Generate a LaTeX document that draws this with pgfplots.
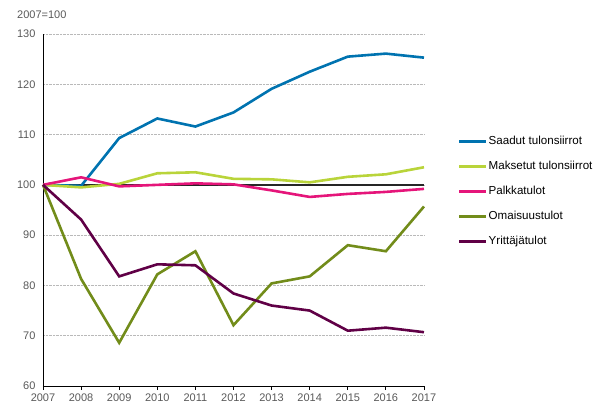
\documentclass[border=0pt]{standalone}
\usepackage{pgfplots}
\pgfplotsset{compat=1.18}
\usepackage{fontspec}
\setmainfont{Liberation Sans}
\definecolor{cBlue}{HTML}{0073B0}
\definecolor{cLime}{HTML}{B9D43A}
\definecolor{cPink}{HTML}{E5157A}
\definecolor{cOlive}{HTML}{728C1A}
\definecolor{cPurple}{HTML}{600046}
\definecolor{cText}{HTML}{595959}
\begin{document}
\begin{tikzpicture}
\begin{axis}[
    scale only axis, width=381pt, height=352pt,
    xmin=2007, xmax=2017, ymin=60, ymax=130,
    xtick={2007,...,2017}, ytick={60,70,...,130},
    axis x line*=bottom, axis y line*=left,
    axis line style={black, line width=0.9pt},
    ymajorgrids, grid style={densely dotted, gray!55, line width=0.5pt},
    ytick style={draw=none},
    xtick style={black, line width=0.9pt},
    tick align=outside, major tick length=4pt,
    /pgf/number format/assume math mode=true,
    x tick label style={/pgf/number format/1000 sep={}},
    tick label style={font=\fontsize{11}{13}\selectfont, text=cText},
    clip=false,
    legend style={draw=none, fill=none, at={(1.081,0.72)}, anchor=north west,
        font=\fontsize{11.6}{14}\selectfont, row sep=11pt,
        nodes={inner sep=1pt, text height=9pt, text depth=3pt}},
    legend cell align=left,
    legend image code/.code={\draw[#1] (0pt,0pt) -- (27pt,0pt);},
    every axis plot/.append style={line width=2.6pt},
]
\addplot[gray!30!black, line width=1.3pt, forget plot] coordinates {(2007,100) (2017,100)};
\addplot[cBlue] coordinates {
(2007,100) (2008,99.8) (2009,109.3) (2010,113.2) (2011,111.6) (2012,114.4)
(2013,119.1) (2014,122.5) (2015,125.5) (2016,126.1) (2017,125.3)};
\addlegendentry{Saadut tulonsiirrot}
\addplot[cLime] coordinates {
(2007,100) (2008,99.5) (2009,100.2) (2010,102.3) (2011,102.5) (2012,101.2)
(2013,101.1) (2014,100.5) (2015,101.6) (2016,102.1) (2017,103.5)};
\addlegendentry{Maksetut tulonsiirrot}
\addplot[cPink] coordinates {
(2007,100) (2008,101.5) (2009,99.7) (2010,100.0) (2011,100.3) (2012,100.1)
(2013,98.9) (2014,97.6) (2015,98.2) (2016,98.6) (2017,99.2)};
\addlegendentry{Palkkatulot}
\addplot[cOlive] coordinates {
(2007,100) (2008,81.3) (2009,68.6) (2010,82.2) (2011,86.8) (2012,72.1)
(2013,80.4) (2014,81.8) (2015,88.0) (2016,86.8) (2017,95.7)};
\addlegendentry{Omaisuustulot}
\addplot[cPurple] coordinates {
(2007,100) (2008,93.1) (2009,81.8) (2010,84.2) (2011,84.0) (2012,78.4)
(2013,76.0) (2014,75.0) (2015,71.0) (2016,71.6) (2017,70.7)};
\addlegendentry{Yrittäjätulot}
\node[anchor=west, text=cText, font=\fontsize{11}{13}\selectfont, inner sep=0pt]
    at ([xshift=-26pt, yshift=19pt]rel axis cs:0,1) {2007=100};
\end{axis}
\path[use as bounding box] (-43pt,-30pt) rectangle (562pt,386pt);
\end{tikzpicture}
\end{document}
